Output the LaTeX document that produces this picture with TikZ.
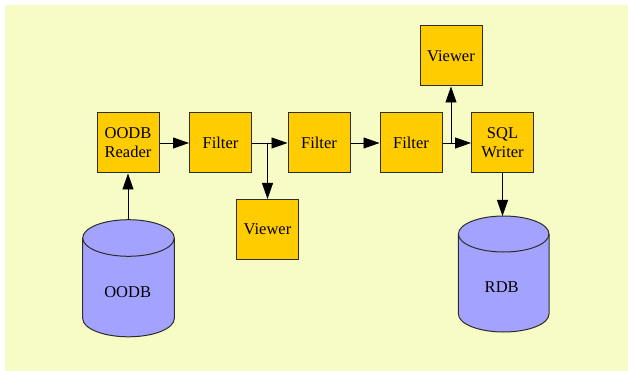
\documentclass[tikz,border=0pt]{standalone}
\usepackage{fontspec}
\setmainfont{Liberation Serif}
\usetikzlibrary{arrows.meta}
\definecolor{paper}{RGB}{247,252,198}
\definecolor{boxfill}{RGB}{255,204,0}
\definecolor{dbfill}{RGB}{163,163,255}
\definecolor{edge}{RGB}{45,45,40}
\begin{document}
\begin{tikzpicture}[x=1pt,y=1pt,
  stage/.style={draw=edge,line width=1pt,fill=boxfill,minimum width=62pt,minimum height=60pt,
    inner sep=0pt,align=center,font=\fontsize{16.5}{19}\selectfont},
  flow/.style={draw=black,line width=0.9pt,-{Triangle[length=16pt,width=11pt]}},
  dbbody/.style={draw=edge,line width=1pt,fill=dbfill},
  dblabel/.style={font=\fontsize{16.5}{19}\selectfont}]
  % page and background
  \useasboundingbox (0,0) rectangle (628,-371);
  \fill[white] (0,0) rectangle (628,-371);
  \fill[paper] (5,-5) rectangle (628,-371);

  % processing stages
  \node[stage] (reader)  at (128,-143)   {OODB\\Reader};
  \node[stage] (filter1) at (220.5,-143) {Filter};
  \node[stage] (filter2) at (319,-143)   {Filter};
  \node[stage] (filter3) at (411,-143)   {Filter};
  \node[stage] (sql)     at (502.5,-143) {SQL\\Writer};
  \node[stage] (viewer1) at (267.5,-229.5) {Viewer};
  \node[stage] (viewer2) at (451,-56)    {Viewer};

  % source database
  \path[dbbody] (82.7,-238) -- (82.7,-318.5)
    arc[start angle=180,end angle=360,x radius=45.8pt,y radius=18.3pt]
    -- (174.3,-238)
    arc[start angle=0,end angle=180,x radius=45.8pt,y radius=18.3pt] -- cycle;
  \draw[draw=edge,line width=1pt] (82.7,-238)
    arc[start angle=180,end angle=360,x radius=45.8pt,y radius=18.3pt];
  \coordinate (oodbtop) at (128,-219.7);
  \node[dblabel] (oodb) at (127.7,-292) {OODB};

  % target database
  \path[dbbody] (458.4,-234) -- (458.4,-314)
    arc[start angle=180,end angle=360,x radius=45.3pt,y radius=18pt]
    -- (549,-234)
    arc[start angle=0,end angle=180,x radius=45.3pt,y radius=18pt] -- cycle;
  \draw[draw=edge,line width=1pt] (458.4,-234)
    arc[start angle=180,end angle=360,x radius=45.3pt,y radius=18pt];
  \coordinate (rdbtop) at (502.5,-216);
  \node[dblabel] (rdb) at (501.7,-287) {RDB};

  % junctions where the viewers tap the stream
  \coordinate (tap1) at (viewer1.north |- filter1.east);
  \coordinate (tap2) at (viewer2.south |- filter3.east);

  % connectors
  \draw[flow] (oodbtop) -- (reader.south);
  \draw[flow] (reader.east) -- (filter1.west);
  \draw[flow] (filter1.east) -- (filter2.west);
  \draw[flow] (tap1) -- (viewer1.north);
  \draw[flow] (filter2.east) -- (filter3.west);
  \draw[flow] (filter3.east) -- (sql.west);
  \draw[flow] (tap2) -- (viewer2.south);
  \draw[flow] (sql.south) -- (rdbtop);
\end{tikzpicture}
\end{document}
